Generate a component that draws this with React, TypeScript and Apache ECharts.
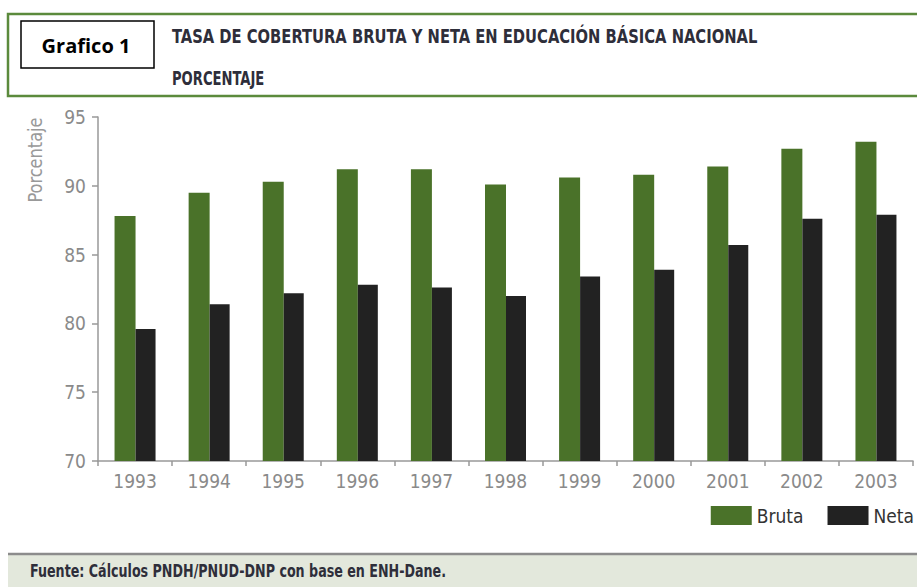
import React, { useEffect, useRef } from "react";
import * as echarts from "echarts";

const years = ["1993", "1994", "1995", "1996", "1997", "1998", "1999", "2000", "2001", "2002", "2003"];
const bruta = [87.8, 89.5, 90.3, 91.2, 91.2, 90.1, 90.6, 90.8, 91.4, 92.7, 93.2];
const neta = [79.6, 81.4, 82.2, 82.8, 82.6, 82.0, 83.4, 83.9, 85.7, 87.6, 87.9];
const seriesNames = ["Bruta", "Neta"];
const titleText = "TASA DE COBERTURA BRUTA Y NETA EN EDUCACIÓN BÁSICA NACIONAL";
const subtitleText = "PORCENTAJE";
const boxText = "Grafico 1";
const sourceText = "Fuente: Cálculos PNDH/PNUD-DNP con base en ENH-Dane.";
const axisName = "Porcentaje";

const NARROW = "'Liberation Sans Narrow', 'DejaVu Sans Condensed', 'Roboto', sans-serif";

export default function App() {
  const ref = useRef<HTMLDivElement>(null);
  useEffect(() => {
    if (!ref.current) return;
    const chart = echarts.init(ref.current, null, { renderer: "svg" });
    chart.setOption({
      animation: false,
      backgroundColor: "#ffffff",
      grid: { left: 98, right: 4, top: 117, bottom: 126, containLabel: false },
      legend: {
        right: 3,
        top: 506,
        orient: "horizontal",
        padding: 0,
        itemWidth: 41,
        itemHeight: 19,
        itemGap: 24,
        icon: "rect",
        textStyle: { fontFamily: NARROW, fontSize: 19, color: "#333333" },
        data: seriesNames,
      },
      xAxis: {
        type: "category",
        data: years,
        axisLine: { show: true, lineStyle: { color: "#999999", width: 1.5 } },
        axisTick: { show: true, length: 5, lineStyle: { color: "#999999", width: 1.5 } },
        axisLabel: { fontFamily: NARROW, fontSize: 19, color: "#8a8a8a", margin: 10 },
        splitLine: { show: false },
      },
      yAxis: {
        type: "value",
        min: 70,
        max: 95,
        interval: 5,
        axisLine: { show: true, lineStyle: { color: "#999999", width: 1.5 } },
        axisTick: { show: true, length: 6, lineStyle: { color: "#999999", width: 1.5 } },
        axisLabel: { fontFamily: NARROW, fontSize: 19, color: "#8a8a8a", margin: 12 },
        splitLine: { show: false },
      },
      series: [
        {
          name: seriesNames[0],
          type: "bar",
          data: bruta,
          barWidth: 21,
          barGap: "0%",
          itemStyle: { color: "#4a7229" },
        },
        {
          name: seriesNames[1],
          type: "bar",
          data: neta,
          barWidth: 20,
          barGap: "0%",
          itemStyle: { color: "#222222" },
        },
      ],
      graphic: [
        {
          type: "rect",
          shape: { x: 8, y: 14, width: 930, height: 82 },
          style: { fill: "#ffffff", stroke: "#5b8a3c", lineWidth: 2.5 },
          z: 1,
        },
        {
          type: "rect",
          shape: { x: 21, y: 21, width: 133, height: 47 },
          style: { fill: "#ffffff", stroke: "#000000", lineWidth: 1.5 },
          z: 2,
        },
        {
          type: "text",
          x: 86,
          y: 45,
          style: {
            text: boxText,
            fontFamily: "'Open Sans', 'Noto Sans', sans-serif",
            fontWeight: "bold",
            fontSize: 20,
            fill: "#000000",
            align: "center",
            verticalAlign: "middle",
          },
          z: 3,
        },
        {
          type: "text",
          x: 172,
          y: 36,
          scaleX: 0.82,
          style: {
            text: titleText,
            fontFamily: NARROW,
            fontWeight: "bold",
            fontSize: 20,
            fill: "#2e2e3a",
            align: "left",
            verticalAlign: "middle",
          },
          z: 3,
        },
        {
          type: "text",
          x: 172,
          y: 78,
          scaleX: 0.73,
          style: {
            text: subtitleText,
            fontFamily: NARROW,
            fontWeight: "bold",
            fontSize: 20,
            fill: "#2e2e3a",
            align: "left",
            verticalAlign: "middle",
          },
          z: 3,
        },
        {
          type: "text",
          x: 35,
          y: 160,
          rotation: Math.PI / 2,
          scaleX: 0.9,
          style: {
            text: axisName,
            fontFamily: NARROW,
            fontSize: 20,
            fill: "#999999",
            align: "center",
            verticalAlign: "middle",
          },
        },
        {
          type: "rect",
          shape: { x: 8, y: 554, width: 920, height: 40 },
          style: { fill: "#e3e8dc" },
          z: 1,
        },
        {
          type: "line",
          shape: { x1: 8, y1: 554, x2: 917, y2: 554 },
          style: { stroke: "#8c8c8c", lineWidth: 2.5 },
          z: 2,
        },
        {
          type: "text",
          x: 30,
          y: 572,
          scaleX: 0.83,
          style: {
            text: sourceText,
            fontFamily: NARROW,
            fontWeight: "bold",
            fontSize: 17,
            fill: "#2e2e3a",
            align: "left",
            verticalAlign: "middle",
          },
          z: 3,
        },
      ],
    });
    return () => chart.dispose();
  }, []);
  return (
    <div
      ref={ref}
      style={{ position: "absolute", left: 0, top: 0, width: 917, height: 587 }}
    />
  );
}
